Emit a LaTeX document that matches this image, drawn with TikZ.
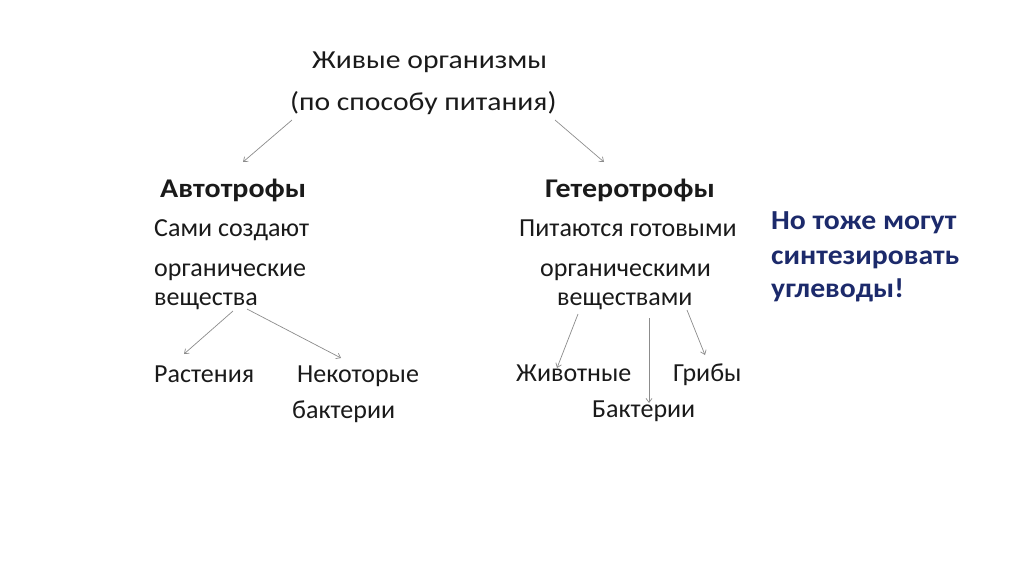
\documentclass[tikz,border=0pt]{standalone}
\usepackage{fontspec}
\setmainfont{Carlito}
\newfontfamily\titlefont{Carlito}[FakeStretch=1.14]
\newfontfamily\headfont{Carlito}[FakeStretch=1.11]
\newfontfamily\notefont{Carlito}[FakeStretch=1.08]
\usetikzlibrary{arrows.meta}
\definecolor{navy}{HTML}{1C2A6B}
\definecolor{arr}{HTML}{8C8C8C}
\definecolor{txt}{HTML}{1A1A1A}
\tikzset{
  lbl/.style={anchor=base west, inner sep=0pt, text=txt, font=\fontsize{26}{30}\selectfont},
  ttl/.style={lbl, font=\titlefont\fontsize{26}{30}\selectfont},
  head/.style={lbl, font=\headfont\fontsize{27}{30}\selectfont\bfseries},
  note/.style={lbl, text=navy, font=\notefont\fontsize{27.5}{30}\selectfont\bfseries},
  conn/.style={draw=arr, line width=0.7pt, -{Straight Barb[length=4pt,width=6pt]}}
}
\begin{document}
\begin{tikzpicture}[x=1pt,y=-1pt]
\useasboundingbox[fill=white] (0,0) rectangle (1024,574);
\node[ttl] (t1) at (312,68) {Живые организмы};
\node[ttl] (t2) at (290,110) {(по способу питания)};
\node[head] (auto) at (160,197) {Автотрофы};
\node[lbl] (a1) at (154,236) {Сами создают};
\node[lbl] (a2) at (154,276) {органические};
\node[lbl] (a3) at (154,305) {вещества};
\node[lbl] (plants) at (154,382) {Растения};
\node[lbl] (some) at (297,382) {Некоторые};
\node[lbl] (bact1) at (292,418) {бактерии};
\node[head] (hetero) at (545,197) {Гетеротрофы};
\node[lbl] (h1) at (519,236) {Питаются готовыми};
\node[lbl] (h2) at (540,276) {органическими};
\node[lbl] (h3) at (557,305) {веществами};
\node[lbl] (anim) at (516,381) {Животные};
\node[lbl] (fungi) at (673,381) {Грибы};
\node[lbl] (bact2) at (592,417) {Бактерии};
\node[note] (n1) at (771,229) {Но тоже могут};
\node[note] (n2) at (771,264) {синтезировать};
\node[note] (n3) at (771,297) {углеводы!};
% connectors
\coordinate (s1) at (292,120); \coordinate (e1) at (243,162);
\coordinate (s2) at (555,120); \coordinate (e2) at (604,162);
\coordinate (s3) at (233,311); \coordinate (e3) at (184,354);
\coordinate (s4) at (247,309); \coordinate (e4) at (341,358);
\coordinate (s5) at (578,314); \coordinate (e5) at (557,368);
\coordinate (s6) at (649,318); \coordinate (e6) at (649,403);
\coordinate (s7) at (687,310); \coordinate (e7) at (705,355);
\draw[conn] (s1) -- (e1);
\draw[conn] (s2) -- (e2);
\draw[conn] (s3) -- (e3);
\draw[conn] (s4) -- (e4);
\draw[conn] (s5) -- (e5);
\draw[conn] (s6) -- (e6);
\draw[conn] (s7) -- (e7);
\end{tikzpicture}
\end{document}
